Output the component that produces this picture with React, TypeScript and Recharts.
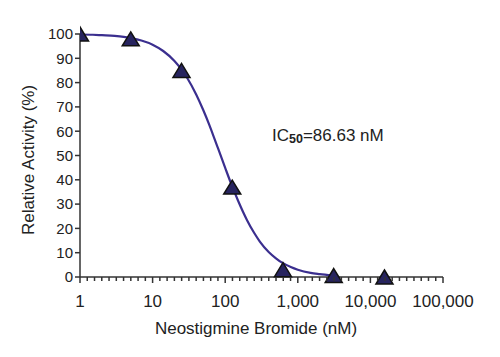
import React from 'react';
import { ComposedChart, Line, Scatter, XAxis, YAxis, Label } from 'recharts';

const concentrations = [1, 5, 25, 125, 625, 3125, 15625];
const activity = [100, 98, 85, 37, 3, 0.6, 0];

const curveX = [1, 1.5, 2, 3, 4, 5, 7, 10, 14, 20, 25, 30, 40, 50, 60, 70, 80, 100, 120, 150, 200, 250, 300, 400, 500, 600, 800, 1000, 1500, 2000, 3000];
const curveY = [99.8, 99.7, 99.5, 99.2, 98.8, 98.3, 97.3, 95.6, 93.0, 88.9, 85.4, 81.9, 75.0, 68.6, 62.8, 57.5, 52.8, 44.9, 38.6, 31.5, 23.4, 18.2, 14.6, 10.2, 7.7, 6.0, 4.1, 3.0, 1.7, 1.2, 0.65];

const majorTicks = [1, 10, 100, 1000, 10000, 100000];
const minorSteps = [1, 2, 3, 4, 5, 6, 7, 8, 9];
const yTicks = [0, 10, 20, 30, 40, 50, 60, 70, 80, 90, 100];

const xTicks: number[] = [];
majorTicks.forEach((m, i) => {
  xTicks.push(m);
  if (i < majorTicks.length - 1) {
    minorSteps.forEach((s) => xTicks.push(m * Math.pow(10, s / 10)));
  }
});

const pointData = concentrations.map((c, i) => ({ x: c, y: activity[i] }));
const curveData = curveX.map((c, i) => ({ x: c, y: curveY[i] }));

const FONT = '"Liberation Sans", Arial, sans-serif';
const AXIS = '#333';

const fmt = (v: number) => Math.round(v).toLocaleString('en-US');

const XTick = (props: any) => {
  const { x, y, payload } = props;
  const v = payload.value;
  const isMajor = majorTicks.some((m) => Math.abs(m - v) / m < 1e-6);
  return (
    <g>
      <line x1={x} x2={x} y1={y} y2={y + (isMajor ? 6 : 4)} stroke={AXIS} strokeWidth={1.5} />
      {isMajor && (
        <text x={x} y={y + 30} textAnchor="middle" fontSize={17} fontFamily={FONT} fill="#222">
          {fmt(v)}
        </text>
      )}
    </g>
  );
};

const Triangle = (props: any) => {
  const { cx, cy } = props;
  const w = 17;
  const h = 14;
  return (
    <path
      d={`M${cx},${cy - h / 2} L${cx + w / 2},${cy + h / 2} L${cx - w / 2},${cy + h / 2} Z`}
      fill="#27245f"
      stroke="#111"
      strokeWidth={1.5}
      strokeLinejoin="miter"
    />
  );
};

export default function App() {
  return (
    <div style={{ position: 'absolute', left: 0, top: 0, width: 500, height: 357, background: '#fff' }}>
      <ComposedChart width={500} height={357} margin={{ top: 34, right: 57, bottom: 22, left: 0 }}>
        <XAxis
          dataKey="x"
          type="number"
          scale="log"
          domain={[1, 100000]}
          ticks={xTicks}
          interval={0}
          tick={<XTick />}
          tickLine={false}
          tickSize={0}
          tickMargin={0}
          axisLine={{ stroke: AXIS, strokeWidth: 1.5 }}
          height={58}
          allowDataOverflow
        >
          <Label
            content={() => (
              <text x={256} y={334} textAnchor="middle" fontSize={17} fontFamily={FONT} fill="#222">
                Neostigmine Bromide (nM)
              </text>
            )}
          />
        </XAxis>
        <YAxis
          type="number"
          domain={[0, 100]}
          ticks={yTicks}
          interval={0}
          width={80}
          tickSize={5}
          tickMargin={2}
          tick={{ fontSize: 15, fontFamily: FONT, fill: '#222' }}
          tickLine={{ stroke: AXIS, strokeWidth: 1.5 }}
          axisLine={{ stroke: AXIS, strokeWidth: 1.5 }}
        >
          <Label
            content={() => (
              <text
                x={34}
                y={160}
                textAnchor="middle"
                fontSize={17}
                fontFamily={FONT}
                fill="#222"
                transform="rotate(-90 34 160)"
              >
                Relative Activity (%)
              </text>
            )}
          />
        </YAxis>
        <Scatter data={pointData} dataKey="y" shape={<Triangle />} isAnimationActive={false} />
        <Line
          data={curveData}
          dataKey="y"
          type="monotone"
          stroke="#3b2f8f"
          strokeWidth={2.2}
          dot={false}
          activeDot={false}
          isAnimationActive={false}
        />
      </ComposedChart>
      <div
        style={{
          position: 'absolute',
          left: 272,
          top: 127,
          fontFamily: FONT,
          fontSize: 17,
          lineHeight: '17px',
          color: '#222',
          whiteSpace: 'nowrap',
        }}
      >
        IC<span style={{ fontSize: 12.5, fontWeight: 'bold', verticalAlign: '-2px' }}>50</span>=86.63 nM
      </div>
    </div>
  );
}
